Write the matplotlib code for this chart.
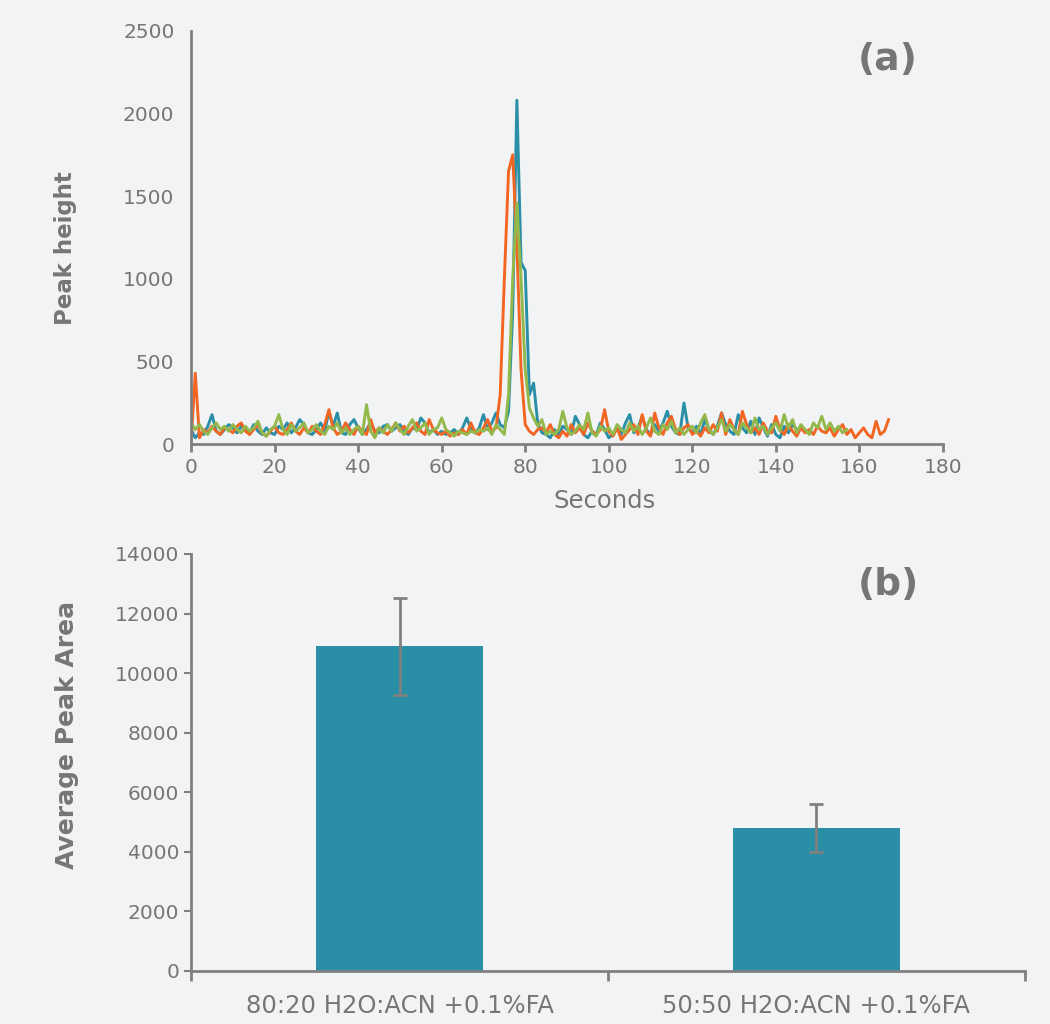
import numpy as np
import matplotlib
matplotlib.use("Agg")
import matplotlib.pyplot as plt

plt.rcParams['font.family'] = ['DejaVu Sans']

# chromatogram traces, sampled every 1 s
teal = [90, 40, 70, 60, 110, 180, 80, 60, 90, 120,
        100, 70, 110, 90, 70, 120, 80, 60, 100, 70,
        60, 110, 90, 130, 70, 100, 150, 120, 70, 60,
        90, 130, 80, 200, 110, 190, 70, 60, 120, 150,
        100, 60, 90, 130, 80, 70, 110, 120, 80, 100,
        120, 80, 60, 100, 90, 160, 130, 70, 90, 60,
        80, 60, 70, 90, 60, 100, 160, 90, 70, 100,
        180, 90, 130, 190, 120, 100, 200, 800, 2080, 1100,
        1050, 300, 370, 130, 70, 60, 40, 90, 60, 110,
        90, 60, 170, 120, 60, 40, 80, 60, 130, 90,
        40, 60, 100, 60, 130, 180, 70, 100, 170, 90,
        60, 120, 80, 130, 200, 110, 70, 60, 250, 100,
        70, 110, 60, 150, 90, 60, 110, 190, 120, 80,
        60, 180, 100, 70, 140, 60, 160, 100, 50, 120,
        60, 40, 110, 70, 120, 90]

orange = [20, 430, 40, 90, 70, 110, 80, 60, 100, 90,
          70, 110, 130, 80, 60, 90, 120, 70, 50, 80,
          110, 70, 60, 90, 130, 80, 60, 100, 70, 110,
          80, 60, 120, 210, 100, 60, 80, 130, 90, 60,
          110, 80, 60, 150, 70, 100, 80, 60, 90, 130,
          80, 110, 70, 100, 130, 80, 60, 150, 90, 70,
          60, 80, 50, 70, 60, 90, 60, 130, 70, 60,
          100, 150, 80, 100, 300, 1000, 1650, 1750, 1200, 450,
          120, 80, 60, 90, 100, 70, 120, 60, 40, 80,
          50, 120, 70, 100, 60, 130, 80, 60, 90, 210,
          80, 50, 100, 30, 60, 90, 120, 60, 180, 80,
          50, 190, 100, 60, 130, 170, 90, 60, 100, 120,
          60, 80, 50, 100, 70, 120, 80, 190, 60, 150,
          90, 60, 200, 120, 70, 100, 60, 130, 80, 70,
          170, 90, 60, 120, 80, 50, 100, 70, 90, 60,
          110, 80, 70, 100, 50, 90, 120, 60, 90, 40,
          70, 100, 60, 40, 140, 60, 80, 150]

green = [130, 90, 120, 80, 60, 100, 130, 90, 110, 80,
         120, 90, 70, 110, 80, 100, 140, 70, 50, 90,
         110, 180, 90, 60, 120, 80, 100, 130, 70, 90,
         120, 80, 60, 110, 90, 130, 70, 100, 60, 90,
         110, 60, 240, 80, 40, 100, 70, 120, 80, 130,
         90, 60, 110, 150, 80, 100, 130, 60, 90, 100,
         160, 90, 70, 50, 80, 70, 60, 80, 70, 90,
         80, 100, 60, 120, 90, 60, 300, 1000, 1460, 1000,
         450, 220, 160, 110, 150, 60, 80, 60, 90, 200,
         100, 60, 80, 120, 90, 190, 70, 50, 110, 80,
         100, 60, 120, 90, 70, 130, 80, 110, 60, 100,
         160, 80, 60, 120, 90, 140, 70, 100, 60, 90,
         110, 70, 130, 180, 90, 60, 100, 150, 80, 120,
         90, 60, 130, 100, 70, 160, 90, 110, 60, 100,
         130, 80, 180, 100, 150, 70, 120, 90, 60, 130,
         100, 170, 90, 130, 80, 110, 70, 90]

# bar chart
categories = ["80:20 H2O:ACN +0.1%FA", "50:50 H2O:ACN +0.1%FA"]
peak_area = [10900, 4800]
peak_err = [1630, 800]

bg = "#f2f3f5"
grey = "#808080"
text_grey = "#767676"

fig = plt.figure(figsize=(10.5, 10.24), dpi=100, facecolor=bg)
ax1 = fig.add_axes([0.182, 0.566, 0.716, 0.404], facecolor=bg)
ax2 = fig.add_axes([0.182, 0.052, 0.794, 0.407], facecolor=bg)

for vals, col in [(teal, "#2a8fa6"), (orange, "#f26522"), (green, "#93b84c")]:
    t = np.arange(len(vals))
    ax1.plot(t, vals, color=col, lw=2.1, solid_joinstyle="round")

ax1.set_xlim(0, 180)
ax1.set_ylim(0, 2500)
ax1.set_xticks(range(0, 181, 20))
ax1.set_yticks(range(0, 2501, 500))
ax1.tick_params(axis="x", colors=grey, labelcolor=text_grey, labelsize=14.5,
                length=6, width=2)
ax1.tick_params(axis="y", colors=grey, labelcolor=text_grey, labelsize=14.5,
                length=0, pad=12)
ax1.set_xlabel("Seconds", fontsize=17.5, color=text_grey)
ax1.xaxis.set_label_coords(0.55, -0.108)
ax1.set_ylabel("Peak height", fontsize=16.5, color=text_grey, fontweight="bold")
ax1.yaxis.set_label_coords(-0.152, 0.475)
ax1.text(0.927, 0.93, "(a)", transform=ax1.transAxes, fontsize=27,
         fontweight="bold", color=text_grey, ha="center", va="center")

x = np.arange(len(categories))
ax2.bar(x, peak_area, width=0.4, color="#2a8fa6")
ax2.errorbar(x, peak_area, yerr=peak_err, fmt="none", ecolor=grey,
             elinewidth=2, capsize=5, capthick=2)
ax2.set_xlim(-0.5, 1.5)
ax2.set_ylim(0, 14000)
ax2.set_yticks(range(0, 14001, 2000))
ax2.set_xticks([-0.5, 0.5, 1.5])
ax2.set_xticklabels([])
ax2.set_xticks(x, minor=True)
ax2.set_xticklabels(categories, minor=True)
ax2.tick_params(axis="x", which="major", colors=grey, length=7, width=2)
ax2.tick_params(axis="x", which="minor", length=0, labelcolor=text_grey,
                labelsize=17.5, pad=17)
ax2.tick_params(axis="y", colors=grey, labelcolor=text_grey, labelsize=14.5,
                length=5, width=1.5)
ax2.set_ylabel("Average Peak Area", fontsize=18, color=text_grey, fontweight="bold")
ax2.yaxis.set_label_coords(-0.135, 0.566)
ax2.text(0.836, 0.926, "(b)", transform=ax2.transAxes, fontsize=27,
         fontweight="bold", color=text_grey, ha="center", va="center")

for ax in (ax1, ax2):
    ax.spines["top"].set_visible(False)
    ax.spines["right"].set_visible(False)
    ax.spines["left"].set_color(grey)
    ax.spines["bottom"].set_color(grey)
    ax.spines["left"].set_linewidth(2)
    ax.spines["bottom"].set_linewidth(2)

fig.savefig("out.png", dpi=100, facecolor=bg)
